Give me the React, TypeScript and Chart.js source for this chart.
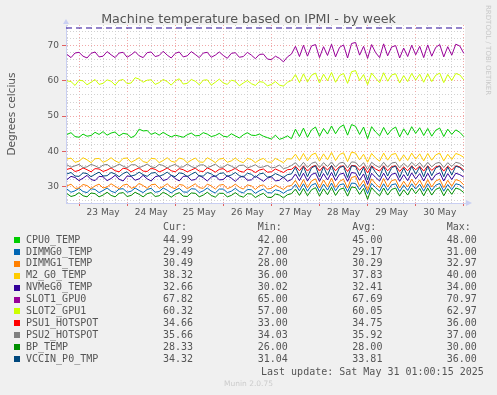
import React, { useEffect, useRef } from 'react';
import { Chart, registerables } from 'chart.js';

Chart.register(...registerables);

// ---- time axis (hours relative to 23 May 00:00) ----
const START_HOUR = -6;
const STEP_HOURS = 2;
const X_MIN = -6.5;
const X_MAX = 192.6;
const DAY_LABELS = ['23 May', '24 May', '25 May', '26 May', '27 May', '28 May', '29 May', '30 May'];

// ---- y axis ----
const Y_MIN = 25.35;
const Y_MAX = 75.85;
const Y_LABELS = [30, 40, 50, 60, 70];
const WARNING_LEVEL = 75;

const TITLE = 'Machine temperature based on IPMI - by week';
const Y_TITLE = 'Degrees celcius';

// ---- series ----
const SERIES_NAMES = ['CPU0_TEMP', 'DIMMG0_TEMP', 'DIMMG1_TEMP', 'M2_G0_TEMP', 'NVMeG0_TEMP', 'SLOT1_GPU0', 'SLOT2_GPU1', 'PSU1_HOTSPOT', 'PSU2_HOTSPOT', 'BP_TEMP', 'VCCIN_P0_TMP'];
const SERIES_COLORS = ['#00CC00', '#0066B3', '#FF8000', '#FFCC00', '#330099', '#990099', '#CCFF00', '#FF0000', '#808080', '#008F00', '#00487D'];

const CPU0_TEMP = [
  44.8, 45.3, 44.2, 44.0, 44.9, 44.3, 44.5, 45.4, 44.8, 45.6,
  44.6, 45.2, 45.5, 44.4, 45.1, 44.9, 43.9, 44.5, 46.3, 45.8,
  45.9, 44.8, 45.3, 44.6, 45.4, 44.7, 44.1, 44.6, 44.3, 44.0,
  44.7, 45.2, 44.4, 44.5, 45.3, 44.9, 44.2, 44.5, 45.1, 44.3,
  44.1, 45.0, 44.4, 43.8, 44.7, 45.3, 44.6, 44.5, 44.9, 44.3,
  43.9, 43.5, 44.6, 43.4, 43.8, 44.4, 43.6, 46.3, 44.2, 46.6,
  44.0, 46.1, 46.9, 44.3, 46.5, 44.9, 47.2, 45.0, 46.8, 47.5,
  44.6, 47.6, 47.1, 44.8, 46.9, 43.6, 47.0, 45.5, 44.4, 46.8,
  44.7, 46.2, 46.9, 44.1, 46.4, 44.6, 47.0, 45.1, 46.7, 44.5,
  46.5, 44.3, 46.0, 46.6, 44.2, 46.3, 44.8, 46.1, 45.4, 44.2,
];
const DIMMG0_TEMP = [
  29.3, 28.4, 28.8, 29.5, 28.6, 28.3, 29.4, 29.2, 28.3, 28.9,
  29.6, 28.7, 28.3, 29.3, 29.4, 28.4, 28.7, 29.6, 28.9, 28.3,
  29.2, 29.5, 28.4, 28.6, 29.6, 29.0, 28.2, 29.0, 29.5, 28.5,
  28.4, 29.4, 29.3, 28.3, 28.8, 29.6, 28.7, 28.2, 29.3, 29.3,
  28.3, 28.7, 29.5, 28.6, 28.2, 29.2, 29.1, 28.1, 28.8, 29.3,
  28.3, 28.2, 29.1, 28.8, 28.1, 28.9, 29.2, 30.6, 28.8, 30.8,
  28.7, 30.4, 30.9, 28.6, 30.7, 29.0, 31.0, 28.8, 30.5, 30.8,
  28.6, 31.0, 30.9, 29.1, 30.7, 28.0, 30.9, 29.7, 28.7, 30.8,
  28.9, 30.5, 30.8, 28.6, 30.4, 28.9, 30.8, 29.3, 30.7, 28.7,
  30.8, 28.9, 30.4, 30.9, 28.7, 30.6, 29.1, 30.8, 30.5, 29.5,
];
const DIMMG1_TEMP = [
  30.2, 30.7, 29.5, 29.6, 30.6, 30.3, 29.4, 30.2, 30.7, 29.6,
  29.9, 30.8, 30.1, 29.4, 30.4, 30.7, 29.5, 29.9, 30.9, 30.3,
  29.5, 30.5, 30.7, 29.5, 30.0, 30.8, 29.8, 29.4, 30.6, 30.4,
  29.4, 30.1, 30.8, 29.7, 29.5, 30.7, 30.2, 29.3, 30.4, 30.6,
  29.4, 29.9, 30.7, 29.8, 29.3, 30.5, 30.2, 29.2, 30.2, 30.5,
  29.3, 29.5, 30.4, 29.8, 29.2, 30.1, 30.3, 31.8, 29.8, 32.0,
  29.7, 31.6, 32.2, 29.6, 31.9, 30.0, 32.4, 29.8, 31.5, 32.1,
  29.6, 32.6, 32.9, 30.1, 31.8, 29.0, 32.2, 30.8, 29.7, 32.3,
  29.9, 31.7, 32.0, 29.6, 31.5, 29.9, 32.1, 30.3, 31.9, 29.7,
  32.0, 29.9, 31.6, 32.1, 29.7, 31.8, 30.1, 32.0, 31.6, 30.5,
];
const M2_G0_TEMP = [
  37.8, 38.1, 36.9, 37.2, 38.2, 37.6, 36.8, 37.9, 38.0, 36.9,
  37.4, 38.2, 37.3, 36.8, 38.0, 38.1, 36.9, 37.5, 38.2, 37.1,
  36.8, 38.0, 37.9, 36.8, 37.4, 38.2, 37.2, 36.9, 38.1, 37.8,
  36.8, 37.5, 38.1, 37.0, 36.9, 38.2, 37.6, 36.8, 37.8, 38.0,
  36.9, 37.3, 38.1, 37.2, 36.8, 38.0, 37.7, 36.8, 37.6, 38.0,
  37.0, 36.9, 38.0, 37.4, 36.8, 37.9, 37.8, 39.2, 37.4, 39.4,
  37.3, 39.0, 39.5, 37.2, 39.3, 37.6, 39.7, 37.4, 39.1, 39.6,
  37.1, 39.8, 39.5, 37.6, 39.2, 36.9, 39.4, 38.1, 37.2, 39.5,
  37.5, 39.1, 39.4, 37.2, 39.0, 37.4, 39.5, 37.8, 39.3, 37.3,
  39.4, 37.5, 39.0, 39.5, 37.3, 39.2, 37.7, 39.4, 39.0, 38.3,
];
const NVMEG0_TEMP = [
  32.0, 32.9, 32.6, 31.7, 32.4, 33.2, 32.0, 31.7, 32.9, 32.8,
  31.7, 32.3, 33.2, 32.1, 31.6, 33.0, 32.9, 31.8, 32.2, 33.2,
  32.2, 31.6, 32.8, 33.1, 31.7, 32.1, 33.2, 32.3, 31.6, 32.9,
  33.0, 31.8, 32.0, 33.2, 32.5, 31.6, 32.7, 33.1, 31.9, 32.0,
  33.1, 32.4, 31.5, 32.6, 33.0, 31.8, 31.9, 33.0, 32.3, 31.5,
  32.4, 32.8, 31.6, 31.8, 32.7, 31.5, 32.0, 33.6, 31.7, 33.8,
  31.6, 33.4, 33.9, 31.5, 33.7, 31.9, 34.0, 31.7, 33.5, 33.8,
  31.5, 34.0, 33.8, 31.8, 33.6, 30.6, 33.8, 32.6, 31.6, 33.8,
  31.8, 33.5, 33.8, 31.5, 33.4, 31.7, 33.9, 32.2, 33.7, 31.6,
  33.8, 31.8, 33.4, 33.9, 31.6, 33.7, 32.0, 33.8, 33.4, 32.7,
];
const SLOT1_GPU0 = [
  67.5, 66.6, 67.9, 68.1, 67.0, 66.5, 67.8, 68.2, 66.8, 67.0,
  68.3, 67.4, 66.6, 67.9, 68.1, 66.7, 67.4, 68.3, 67.1, 66.6,
  68.0, 68.2, 66.9, 67.2, 68.4, 67.3, 66.5, 67.8, 68.2, 66.8,
  67.1, 68.3, 67.5, 66.6, 67.9, 68.1, 66.7, 67.3, 68.2, 67.2,
  66.4, 67.8, 68.0, 66.7, 66.9, 68.1, 67.3, 66.3, 67.5, 67.6,
  66.2, 66.0, 67.0, 66.4, 65.4, 66.8, 67.6, 69.8, 66.9, 70.1,
  67.0, 69.9, 70.3, 66.6, 69.7, 67.2, 70.4, 66.8, 69.5, 70.2,
  66.5, 70.6, 70.9, 67.3, 69.8, 66.4, 70.3, 68.0, 66.6, 70.5,
  67.1, 69.6, 70.0, 66.5, 69.3, 66.9, 70.1, 67.4, 69.8, 66.6,
  70.2, 67.0, 69.5, 70.3, 66.8, 69.7, 67.3, 70.4, 69.9, 67.8,
];
const SLOT2_GPU1 = [
  60.0, 59.8, 58.7, 60.2, 60.0, 58.9, 59.6, 60.4, 59.0, 59.3,
  60.3, 59.9, 58.8, 60.1, 60.4, 59.2, 59.4, 60.9, 60.5, 59.6,
  60.2, 60.3, 59.0, 59.5, 60.4, 59.8, 58.8, 60.0, 60.6, 59.1,
  59.3, 60.4, 59.9, 58.9, 60.2, 60.3, 58.8, 59.6, 60.5, 59.4,
  59.0, 60.2, 59.9, 58.6, 59.4, 60.1, 59.2, 58.7, 59.8, 59.6,
  58.6, 59.0, 59.8, 58.8, 58.5, 59.6, 60.1, 61.8, 59.5, 62.0,
  59.7, 61.6, 62.2, 59.4, 61.9, 60.0, 62.4, 59.6, 61.5, 62.1,
  59.3, 62.6, 62.9, 60.1, 61.8, 58.9, 62.2, 60.8, 59.5, 62.3,
  59.9, 61.7, 62.0, 59.4, 61.5, 59.8, 62.1, 60.2, 61.9, 59.6,
  62.0, 59.8, 61.6, 62.2, 59.5, 61.8, 60.1, 62.1, 61.7, 60.3,
];
const PSU1_HOTSPOT = [
  34.9, 35.2, 34.3, 34.6, 35.3, 34.8, 34.2, 35.1, 35.0, 34.3,
  34.7, 35.3, 34.5, 34.2, 35.2, 35.0, 34.2, 34.8, 35.3, 34.4,
  34.3, 35.2, 34.9, 34.2, 34.6, 35.3, 34.5, 34.2, 35.1, 34.8,
  34.2, 34.7, 35.2, 34.4, 34.3, 35.3, 34.8, 34.1, 34.9, 35.1,
  34.2, 34.6, 35.2, 34.4, 34.1, 35.0, 34.7, 34.0, 34.7, 35.0,
  34.1, 34.2, 35.0, 34.5, 34.0, 34.8, 34.9, 35.8, 34.5, 35.9,
  34.4, 35.6, 36.0, 34.4, 35.8, 34.7, 36.0, 34.5, 35.7, 35.9,
  34.3, 36.0, 35.9, 34.6, 35.8, 33.9, 35.9, 35.0, 34.4, 35.9,
  34.5, 35.7, 35.9, 34.3, 35.6, 34.5, 35.9, 34.8, 35.8, 34.4,
  35.9, 34.6, 35.6, 35.9, 34.4, 35.8, 34.7, 35.9, 35.6, 34.7,
];
const PSU2_HOTSPOT = [
  36.2, 35.5, 35.9, 36.3, 35.4, 35.6, 36.3, 35.9, 35.3, 36.1,
  36.3, 35.4, 35.7, 36.4, 35.8, 35.3, 36.2, 36.2, 35.4, 35.8,
  36.4, 35.6, 35.4, 36.3, 36.0, 35.3, 35.9, 36.3, 35.5, 35.6,
  36.4, 35.7, 35.3, 36.1, 36.2, 35.4, 35.8, 36.4, 35.5, 35.5,
  36.3, 35.8, 35.2, 36.0, 36.1, 35.3, 35.7, 36.2, 35.4, 35.6,
  36.0, 35.3, 35.5, 36.1, 35.1, 35.4, 36.0, 36.8, 35.5, 36.9,
  35.4, 36.6, 37.0, 35.4, 36.8, 35.7, 37.0, 35.5, 36.7, 36.9,
  35.3, 37.0, 36.9, 35.6, 36.8, 34.9, 36.9, 36.0, 35.4, 36.9,
  35.5, 36.7, 36.9, 35.3, 36.6, 35.5, 36.9, 35.8, 36.8, 35.4,
  36.9, 35.6, 36.6, 36.9, 35.4, 36.8, 35.7, 36.9, 36.6, 35.7,
];
const BP_TEMP = [
  28.0, 27.2, 27.5, 28.3, 27.4, 27.1, 28.2, 28.0, 27.1, 27.6,
  28.4, 27.5, 27.1, 28.1, 28.3, 27.2, 27.5, 28.4, 27.8, 27.1,
  28.0, 28.3, 27.2, 27.4, 28.4, 27.8, 27.0, 27.8, 28.3, 27.3,
  27.2, 28.2, 28.1, 27.1, 27.6, 28.4, 27.5, 27.0, 28.1, 28.1,
  27.1, 27.5, 28.3, 27.4, 27.0, 28.0, 27.9, 26.9, 27.6, 28.1,
  27.0, 26.9, 27.9, 27.6, 26.8, 27.7, 28.0, 29.3, 27.5, 29.5,
  27.4, 29.1, 29.7, 27.3, 29.4, 27.7, 29.8, 27.5, 29.2, 29.6,
  27.3, 29.9, 29.7, 27.8, 29.5, 26.4, 29.7, 28.4, 27.4, 29.6,
  27.6, 29.2, 29.6, 27.3, 29.1, 27.6, 29.6, 28.0, 29.5, 27.4,
  29.6, 27.6, 29.2, 29.7, 27.4, 29.4, 27.8, 29.6, 29.2, 28.3,
];
const VCCIN_P0_TMP = [
  33.6, 34.0, 33.0, 32.9, 33.9, 33.7, 32.8, 33.5, 34.1, 33.0,
  33.1, 34.0, 33.6, 32.8, 33.7, 34.2, 33.0, 33.3, 34.1, 33.4,
  32.9, 33.8, 34.0, 32.9, 33.4, 34.1, 33.2, 32.8, 33.9, 33.7,
  32.8, 33.5, 34.1, 33.0, 33.0, 34.0, 33.6, 32.8, 33.7, 33.9,
  32.9, 33.3, 34.0, 33.1, 32.7, 33.8, 33.5, 32.6, 33.6, 33.8,
  32.7, 32.9, 33.7, 33.2, 32.6, 33.4, 33.6, 35.5, 32.9, 35.7,
  32.8, 35.3, 35.9, 32.7, 35.6, 33.2, 36.0, 32.9, 35.4, 35.8,
  32.6, 35.9, 35.7, 33.1, 35.5, 31.9, 35.8, 34.0, 32.7, 35.7,
  33.0, 35.4, 35.8, 32.6, 35.3, 33.0, 35.8, 33.5, 35.6, 32.8,
  35.8, 33.1, 35.3, 35.8, 32.8, 35.6, 33.3, 35.8, 35.4, 34.3,
];
const SERIES_VALUES = [CPU0_TEMP, DIMMG0_TEMP, DIMMG1_TEMP, M2_G0_TEMP, NVMEG0_TEMP, SLOT1_GPU0, SLOT2_GPU1, PSU1_HOTSPOT, PSU2_HOTSPOT, BP_TEMP, VCCIN_P0_TMP];

// ---- legend table ----
const CUR = ['44.99', '29.49', '30.49', '38.32', '32.66', '67.82', '60.32', '34.66', '35.66', '28.33', '34.32'];
const MIN = ['42.00', '27.00', '28.00', '36.00', '30.02', '65.00', '57.00', '33.00', '34.03', '26.00', '31.04'];
const AVG = ['45.00', '29.17', '30.29', '37.83', '32.41', '67.69', '60.05', '34.75', '35.92', '28.00', '33.81'];
const MAX = ['48.00', '31.00', '32.97', '40.00', '34.00', '70.97', '62.97', '36.00', '37.00', '30.00', '36.00'];
const LAST_UPDATE = 'Last update: Sat May 31 01:00:15 2025';
const FOOTER = 'Munin 2.0.75';
const SIDE_TEXT = 'RRDTOOL / TOBI OETIKER';

const AXIS_COLOR = '#c9cff2';
const MAJOR_GRID = 'rgba(238,160,160,0.9)';
const MINOR_GRID = 'rgba(205,205,205,0.9)';
const TEXT_COLOR = '#555555';

const bgPlugin = {
  id: 'muninBg',
  beforeDraw(chart: any) {
    const { ctx, chartArea } = chart;
    ctx.save();
    ctx.fillStyle = '#ffffff';
    ctx.fillRect(chartArea.left, chartArea.top, chartArea.right - chartArea.left, chartArea.bottom - chartArea.top);
    ctx.restore();
  },
  afterDraw(chart: any) {
    const { ctx, chartArea } = chart;
    ctx.save();
    ctx.fillStyle = AXIS_COLOR;
    ctx.beginPath();
    ctx.moveTo(chartArea.left - 3, chartArea.top - 1);
    ctx.lineTo(chartArea.left + 3, chartArea.top - 1);
    ctx.lineTo(chartArea.left, chartArea.top - 6);
    ctx.closePath();
    ctx.fill();
    ctx.beginPath();
    ctx.moveTo(chartArea.right + 1, chartArea.bottom - 3);
    ctx.lineTo(chartArea.right + 1, chartArea.bottom + 3);
    ctx.lineTo(chartArea.right + 7, chartArea.bottom);
    ctx.closePath();
    ctx.fill();
    ctx.restore();
  },
};

const mod = (v: number, m: number) => ((v % m) + m) % m;

export default function App() {
  const ref = useRef<HTMLCanvasElement>(null);

  useEffect(() => {
    const n = SERIES_NAMES.length;
    const datasets: any[] = SERIES_VALUES.map((vals, i) => ({
      label: SERIES_NAMES[i],
      data: vals.map((v, k) => ({ x: START_HOUR + k * STEP_HOURS, y: v })),
      borderColor: SERIES_COLORS[i],
      backgroundColor: SERIES_COLORS[i],
      borderWidth: 1,
      pointRadius: 0,
      tension: 0,
      fill: false,
      order: n - i + 1,
    }));
    datasets.push({
      label: 'warning',
      data: [{ x: X_MIN, y: WARNING_LEVEL }, { x: X_MAX, y: WARNING_LEVEL }],
      borderColor: '#2a0a9a',
      borderWidth: 1,
      borderDash: [6, 4],
      pointRadius: 0,
      fill: false,
      order: 0,
    });

    const chart = new Chart(ref.current as HTMLCanvasElement, {
      type: 'line',
      data: { datasets },
      plugins: [bgPlugin],
      options: {
        animation: false,
        responsive: false,
        devicePixelRatio: 1,
        events: [],
        layout: { padding: { top: 25, right: 32, bottom: 172, left: 0 } },
        plugins: { legend: { display: false }, tooltip: { enabled: false }, title: { display: false } },
        scales: {
          x: {
            type: 'linear',
            min: X_MIN,
            max: X_MAX,
            afterFit: (s: any) => { s.height = 20; },
            afterBuildTicks: (s: any) => {
              const t: any[] = [];
              for (let h = -6; h <= 192; h += 6) t.push({ value: h });
              s.ticks = t;
            },
            ticks: {
              autoSkip: false,
              maxRotation: 0,
              minRotation: 0,
              padding: 1,
              color: TEXT_COLOR,
              font: { family: 'DejaVu Sans', size: 9 },
              callback: (v: any) => {
                const h = Number(v);
                if (mod(h, 24) === 12) {
                  const d = Math.floor(h / 24);
                  return DAY_LABELS[d] ?? '';
                }
                return '';
              },
            },
            grid: {
              drawOnChartArea: true,
              drawTicks: true,
              tickLength: 3,
              color: (c: any) => (mod(c.tick?.value ?? 1, 24) === 0 ? MAJOR_GRID : MINOR_GRID),
              tickColor: (c: any) => (mod(c.tick?.value ?? 1, 24) === 0 ? '#e06060' : 'rgba(0,0,0,0)'),
            },
            border: { display: true, color: AXIS_COLOR, width: 1, dash: [1, 2] },
          },
          y: {
            type: 'linear',
            min: Y_MIN,
            max: Y_MAX,
            afterFit: (s: any) => { s.width = 66; },
            afterBuildTicks: (s: any) => {
              const t: any[] = [];
              for (let v = 26; v <= 74; v += 2) t.push({ value: v });
              s.ticks = t;
            },
            ticks: {
              autoSkip: false,
              padding: 3,
              color: TEXT_COLOR,
              font: { family: 'DejaVu Sans', size: 9 },
              callback: (v: any) => (Y_LABELS.includes(Number(v)) ? String(v) : ''),
            },
            title: {
              display: true,
              text: Y_TITLE,
              color: TEXT_COLOR,
              font: { family: 'DejaVu Sans', size: 10.5 },
              padding: { top: 6, bottom: 0 },
            },
            grid: {
              drawTicks: true,
              tickLength: 4,
              color: (c: any) => (mod(c.tick?.value ?? 1, 10) === 0 ? MAJOR_GRID : MINOR_GRID),
              tickColor: (c: any) => (mod(c.tick?.value ?? 1, 10) === 0 ? '#e06060' : 'rgba(0,0,0,0)'),
            },
            border: { display: true, color: AXIS_COLOR, width: 1, dash: [1, 2] },
          },
        },
      } as any,
    });
    return () => chart.destroy();
  }, []);

  const mono = "'DejaVu Sans Mono', monospace";
  const rowTop = (k: number) => 233.6 + 11.9 * k;
  const cell = (left: number, top: number, text: string, extra: any = {}) => (
    <div style={{ position: 'absolute', left, top, fontFamily: mono, fontSize: 10, lineHeight: '12px', color: TEXT_COLOR, whiteSpace: 'pre', ...extra }}>{text}</div>
  );

  return (
    <div style={{ position: 'absolute', left: 0, top: 0, width: 497, height: 395, background: '#f0f0f0', overflow: 'hidden' }}>
      <canvas ref={ref} width={497} height={395} style={{ position: 'absolute', left: 0, top: 0, width: 497, height: 395 }} />
      <div style={{ position: 'absolute', left: 0, top: 11, width: 497, textAlign: 'center', fontFamily: 'DejaVu Sans', fontSize: 12.7, lineHeight: '15px', color: TEXT_COLOR }}>{TITLE}</div>
      <div style={{ position: 'absolute', left: 483.5, top: 5, writingMode: 'vertical-rl', fontFamily: 'DejaVu Sans', fontSize: 7, lineHeight: '8px', color: '#c8c8c8', whiteSpace: 'nowrap' }}>{SIDE_TEXT}</div>
      {cell(163, 221.3, 'Cur:')}
      {cell(257.7, 221.3, 'Min:')}
      {cell(352.3, 221.3, 'Avg:')}
      {cell(446.7, 221.3, 'Max:')}
      {SERIES_NAMES.map((name, k) => (
        <React.Fragment key={name}>
          <div style={{ position: 'absolute', left: 14, top: rowTop(k) + 3.4, width: 6, height: 6, background: SERIES_COLORS[k] }} />
          {cell(26, rowTop(k), name)}
          {cell(163, rowTop(k), CUR[k])}
          {cell(257.7, rowTop(k), MIN[k])}
          {cell(352.3, rowTop(k), AVG[k])}
          {cell(446.7, rowTop(k), MAX[k])}
        </React.Fragment>
      ))}
      {cell(261, 365.7, LAST_UPDATE)}
      <div style={{ position: 'absolute', left: 0, top: 379, width: 497, textAlign: 'center', fontFamily: 'DejaVu Sans', fontSize: 7.5, lineHeight: '10px', color: '#cccccc' }}>{FOOTER}</div>
    </div>
  );
}
